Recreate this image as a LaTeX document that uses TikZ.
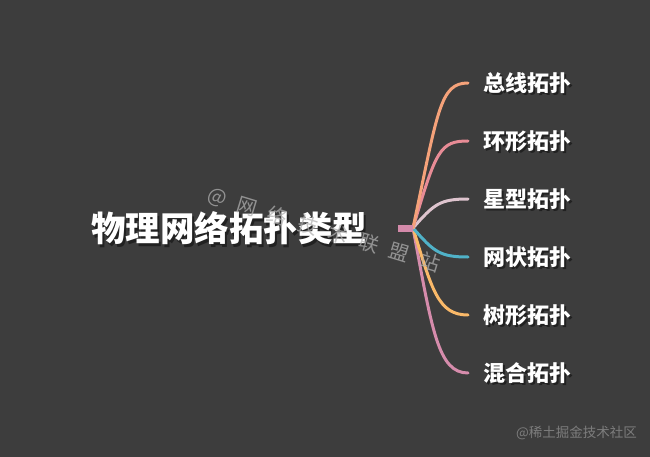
\documentclass[tikz,border=0pt]{standalone}
\usepackage{fontspec}
\newfontfamily\cjk{Noto Sans CJK SC}
\definecolor{bg}{RGB}{61,61,61}
\definecolor{cA}{RGB}{245,162,122}
\definecolor{cB}{RGB}{232,140,150}
\definecolor{cC}{RGB}{222,196,206}
\definecolor{cD}{RGB}{80,178,200}
\definecolor{cE}{RGB}{250,185,105}
\definecolor{cF}{RGB}{214,140,172}
\definecolor{cbar}{RGB}{212,138,170}
\definecolor{wm}{RGB}{175,175,175}
\definecolor{foot}{RGB}{125,125,125}
\tikzset{
  titletext/.style={font=\cjk\bfseries\fontsize{34.5}{36}\selectfont, text=white, inner sep=0pt},
  leaftext/.style={font=\cjk\bfseries\fontsize{22}{24}\selectfont, text=white, anchor=west, inner xsep=15pt, inner ysep=0pt},
  shadowtext/.style={text=black, opacity=0.45},
  branch/.style={line width=3pt, line cap=round},
  wmchar/.style={font=\cjk\fontsize{20}{22}\selectfont, text=wm, opacity=0.75, rotate=-17, inner sep=0pt}
}
\begin{document}
\begin{tikzpicture}[x=1pt,y=-1pt]
\fill[bg] (0,0) rectangle (650,457);
\useasboundingbox (0,0) rectangle (650,457);
% title
\node[titletext, shadowtext] (titleshadow) at (231,231) {物理网络拓扑类型};
\node[titletext] (title) at (229,228) {物理网络拓扑类型};
% hub
\coordinate (barL) at (398,228);
\coordinate (hub) at (413,228);
% leaves
\foreach \n/\y/\t in {1/83/总线拓扑,2/141/环形拓扑,3/199/星型拓扑,4/257/网状拓扑,5/315/树形拓扑,6/373/混合拓扑}{
  \node[leaftext, shadowtext] (s\n) at (470,\y+2) {\t};
}
\node[leaftext] (c1) at (468,83) {总线拓扑};
\node[leaftext] (c2) at (468,141) {环形拓扑};
\node[leaftext] (c3) at (468,199) {星型拓扑};
\node[leaftext] (c4) at (468,257) {网状拓扑};
\node[leaftext] (c5) at (468,315) {树形拓扑};
\node[leaftext] (c6) at (468,373) {混合拓扑};
% branches
\draw[branch, cF] (hub) .. controls (432,330) and (438,373) .. (c6.west);
\draw[branch, cE] (hub) .. controls (432,290) and (438,315) .. (c5.west);
\draw[branch, cD] (hub) .. controls (434,252) and (440,257) .. (c4.west);
\draw[branch, cC] (hub) .. controls (434,204) and (440,199) .. (c3.west);
\draw[branch, cB] (hub) .. controls (436,150) and (440,141) .. (c2.west);
\draw[branch, cA] (hub) .. controls (438,110) and (440,83) .. (c1.west);
\draw[line width=7pt, cbar] (barL) -- (hub);
% watermark
\foreach \i/\ch in {0/@,1/网,2/络,3/技,4/术,5/联,6/盟,7/站}{
  \node[wmchar] (w\i) at (217+30.4*\i,198+9.1*\i) {\ch};
}
% footer
\node[font=\cjk\fontsize{13.5}{15}\selectfont, text=foot, anchor=east, inner sep=0pt] (footer) at (637,433) {@稀土掘金技术社区};
\end{tikzpicture}
\end{document}
